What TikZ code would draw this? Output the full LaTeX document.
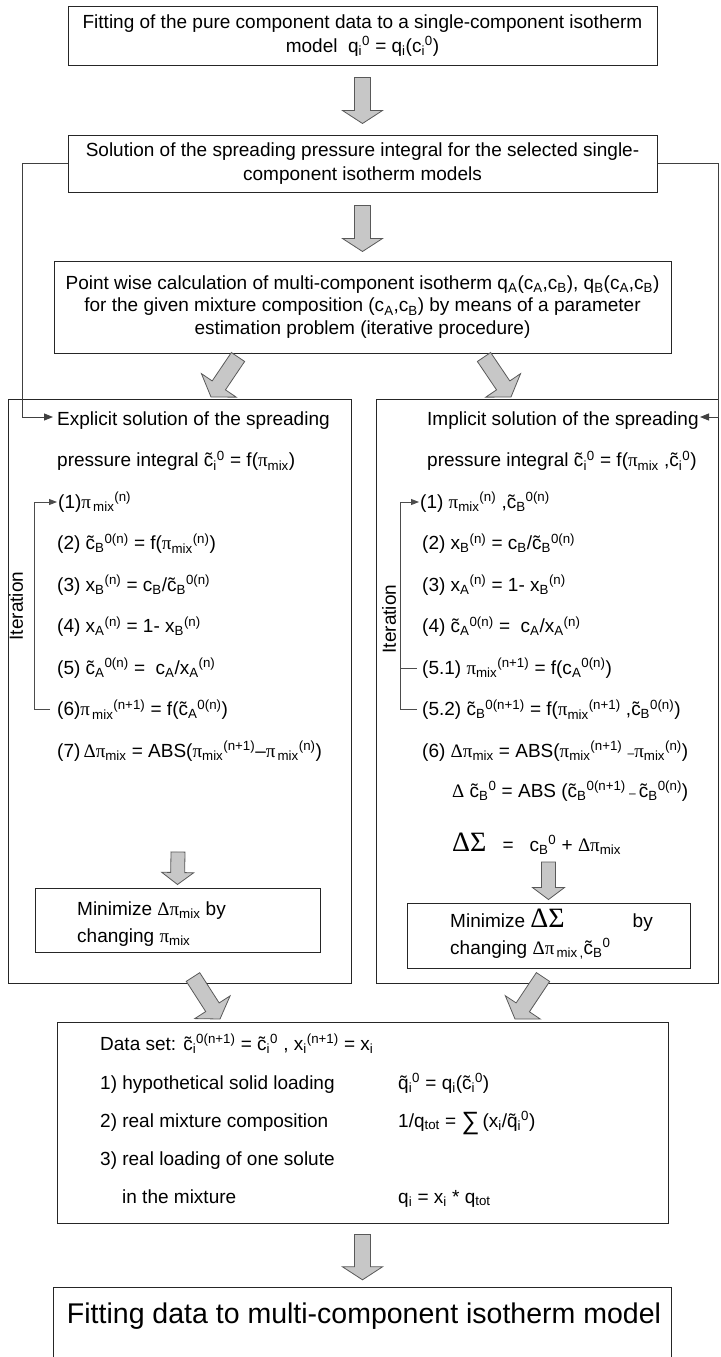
\documentclass[tikz,border=0pt]{standalone}
\usepackage{fontspec}
\setmainfont{Liberation Sans}
\newfontfamily\srf{Liberation Serif}
\usetikzlibrary{calc,arrows.meta}
\newcommand\fs[2]{\fontsize{#1}{#2}\selectfont}
\newcommand\sbs[1]{\textsubscript{#1}}
\newcommand\sps[1]{\textsuperscript{#1}}
\newcommand\tld[1]{\ooalign{#1\cr\hidewidth\char"02DC\hidewidth\cr}}
\newcommand\ct{\tld{c}}
\newcommand\qt{\tld{q}}
\newcommand\PI{{\srf π}}
\newcommand\DL{{\srf Δ}}
\newcommand\smdash{{\fs{12}{12}–}}
% block arrow between two named coordinates: shaft half width, head half width, head length
\newcommand\barr[5]{%
  \path[bar] let \p1=(#1), \p2=(#2), \p3=($(\p2)!#5!(\p1)$) in
    ($(\p1)!#3!90:(\p2)$) -- ($(\p3)!#3!90:(\p2)$) -- ($(\p3)!#4!90:(\p2)$) -- (\p2)
    -- ($(\p3)!#4!-90:(\p2)$) -- ($(\p3)!#3!-90:(\p2)$) -- ($(\p1)!#3!-90:(\p2)$) -- cycle;}
\begin{document}
\begin{tikzpicture}[x=1pt,y=-1pt,
  boxline/.style={draw=black!85, line width=1pt},
  box/.style={boxline, inner sep=0pt, align=center, font=\fs{19}{23.5}},
  frame/.style={boxline, inner sep=0pt},
  txt/.style={inner sep=0pt, anchor=base west, font=\fs{19}{23}},
  fb/.style={draw=black!75, line width=0.9pt, -{Triangle[length=9pt,width=7pt]}},
  brk/.style={draw=black!70, line width=0.9pt},
  bar/.style={draw=black!65, fill=black!22, line width=0.8pt, line join=miter}]

\useasboundingbox (0,0) rectangle (720,1357);
\fill[white] (0,0) rectangle (720,1357);

% top boxes
\node[box, minimum width=589pt, minimum height=59pt] (b1) at (362.5,35.5)
  {Fitting of the pure component data to a single-component isotherm\\
   model\ \ q\sbs{i}\sps{0} = q\sbs{i}(c\sbs{i}\sps{0})};
\node[box, minimum width=589pt, minimum height=57pt] (b2) at (362.5,163.5)
  {Solution of the spreading pressure integral for the selected single-\\
   component isotherm models};
\node[box, minimum width=617pt, minimum height=92pt, font=\fs{19}{22.5}] (b3) at (362.5,307)
  {Point wise calculation of multi-component isotherm q\sbs{A}(c\sbs{A},c\sbs{B}), q\sbs{B}(c\sbs{A},c\sbs{B})\\
   for the given mixture composition (c\sbs{A},c\sbs{B}) by means of a parameter\\
   estimation problem (iterative procedure)};

% big frames
\node[frame, minimum width=343pt, minimum height=584pt] (ex) at (179.5,691) {};
\node[frame, minimum width=342.5pt, minimum height=584pt] (im) at (547.25,691) {};
\node[frame, minimum width=285pt, minimum height=64pt] (mL) at (177.5,920) {};
\node[frame, minimum width=283pt, minimum height=65pt] (mR) at (548.5,935.5) {};
\node[frame, minimum width=611pt, minimum height=201pt] (db) at (362.5,1122.5) {};
\node[inner sep=0pt, minimum width=617pt, minimum height=70pt] (lb) at (362.5,1323) {};
\draw[boxline] ([yshift=-90pt]lb.north west) -- (lb.north west) -- (lb.north east) -- ([yshift=-90pt]lb.north east);
\node[inner sep=0pt, anchor=base, font=\fs{28.5}{30}] (lt) at (364,1323) {Fitting data to multi-component isotherm model};

% explicit box text
\node[txt] (L0) at (57,425) {Explicit solution of the spreading};
\node[txt] (L1) at (57,466.5) {pressure integral \ct\sbs{i}\sps{0} = f(\PI\sbs{mix})};
\node[txt] (L2) at (58,508) {(1)\PI\sbs{\,mix}\sps{(n)}};
\node[txt] (L3) at (57,549.5) {(2) \ct\sbs{B}\sps{0(n)} = f(\PI\sbs{mix}\sps{(n)})};
\node[txt] (L4) at (57,591) {(3) x\sbs{B}\sps{(n)} = c\sbs{B}/\ct\sbs{B}\sps{0(n)}};
\node[txt] (L5) at (57,632.5) {(4) x\sbs{A}\sps{(n)} = 1- x\sbs{B}\sps{(n)}};
\node[txt] (L6) at (57,674) {(5) \ct\sbs{A}\sps{0(n)} = \ c\sbs{A}/x\sbs{A}\sps{(n)}};
\node[txt] (L7) at (57,715.5) {(6)\PI\sbs{\,mix}\sps{(n+1)} = f(\ct\sbs{A}\sps{0(n)})};
\node[txt] (L8) at (57,757) {(7)\,\DL\PI\sbs{mix} = ABS(\PI\sbs{mix}\sps{(n+1)}–\PI\sbs{\,mix}\sps{(n)})};
\node[txt] (M1) at (77,915) {Minimize \DL\PI\sbs{mix} by};
\node[txt] (M2) at (77,942) {changing \PI\sbs{mix}};

% implicit box text
\node[txt] (R0) at (427,425) {Implicit solution of the spreading};
\node[txt] (R1) at (427,466.5) {pressure integral \ct\sbs{i}\sps{0} = f(\PI\sbs{mix} ,\ct\sbs{i}\sps{0})};
\node[txt] (R2) at (420,508) {(1) \PI\sbs{mix}\sps{(n)} ,\ct\sbs{B}\sps{0(n)}};
\node[txt] (R3) at (422,549.5) {(2) x\sbs{B}\sps{(n)} = c\sbs{B}/\ct\sbs{B}\sps{0(n)}};
\node[txt] (R4) at (422,591) {(3) x\sbs{A}\sps{(n)} = 1- x\sbs{B}\sps{(n)}};
\node[txt] (R5) at (422,632.5) {(4) \ct\sbs{A}\sps{0(n)} = \ c\sbs{A}/x\sbs{A}\sps{(n)}};
\node[txt] (R6) at (422,674) {(5.1) \PI\sbs{mix}\sps{(n+1)} = f(c\sbs{A}\sps{0(n)})};
\node[txt] (R7) at (422,715.5) {(5.2) \ct\sbs{B}\sps{0(n+1)} = f(\PI\sbs{mix}\sps{(n+1)} ,\ct\sbs{B}\sps{0(n)})};
\node[txt] (R8) at (422,757) {(6) \DL\PI\sbs{mix} = ABS(\PI\sbs{mix}\sps{(n+1)} \smdash\PI\sbs{mix}\sps{(n)})};
\node[txt] (R9) at (452,797) {\DL\ \ct\sbs{B}\sps{0} = ABS (\ct\sbs{B}\sps{0(n+1)}\,\smdash\,\ct\sbs{B}\sps{0(n)})};
\node[txt] (R10) at (452,851) {{\srf\fs{28}{28}ΔΣ}\hspace{16pt}=\hspace{16pt}c\sbs{B}\sps{0} + \DL\PI\sbs{mix}};
\node[txt] (N1) at (450,927) {Minimize {\srf\fs{28}{28}ΔΣ}\hspace{68pt}by};
\node[txt] (N2) at (450,954) {changing \DL\PI\sbs{\,mix\,,}\ct\sbs{B}\sps{0}};

% data box text
\node[txt] (D0) at (100,1050) {Data set: \ct\sbs{i}\sps{0(n+1)} = \ct\sbs{i}\sps{0} , x\sbs{i}\sps{(n+1)} = x\sbs{i}};
\node[txt] (D1) at (100,1089) {1) hypothetical solid loading};
\node[txt] (D1r) at (398,1089) {\qt\sbs{i}\sps{0} = q\sbs{i}(\ct\sbs{i}\sps{0})};
\node[txt] (D2) at (100,1127) {2) real mixture composition};
\node[txt] (D2r) at (398,1127) {1/q\sbs{tot} = \raisebox{-2pt}{\fs{25}{25}∑}\,(x\sbs{i}/\qt\sbs{i}\sps{0})};
\node[txt] (D3) at (100,1165) {3) real loading of one solute};
\node[txt] (D4) at (122,1203) {in the mixture};
\node[txt] (D4r) at (398,1203) {q\sbs{i} = x\sbs{i} * q\sbs{tot}};

% iteration labels and brackets
\node[rotate=90, inner sep=0pt, font=\fs{19}{23}] (itL) at (16,606) {Iteration};
\node[rotate=90, inner sep=0pt, font=\fs{19}{23}] (itR) at (389,619) {Iteration};
\coordinate (brL) at (34,600);
\coordinate (brR) at (400,600);
\coordinate (L2m) at ([yshift=6pt]L2.base west);
\coordinate (L7m) at ([yshift=6pt]L7.base west);
\coordinate (R2m) at ([yshift=6pt]R2.base west);
\coordinate (R6m) at ([yshift=6pt]R6.base west);
\coordinate (R7m) at ([yshift=6pt]R7.base west);
\draw[brk,-{Triangle[length=8pt,width=6pt]}] ([xshift=-7pt]L7m) -- (L7m -| brL) -- (L2m -| brL) -- ([xshift=-1pt]L2m);
\draw[brk,-{Triangle[length=8pt,width=6pt]}] ([xshift=-5pt]R7m) -- (R7m -| brR) -- (R2m -| brR) -- ([xshift=-1pt]R2m);
\draw[brk] (R6m -| brR) -- ([xshift=-5pt]R6m);

% feedback lines
\coordinate (fbL) at (22,417);
\coordinate (fbLt) at (53,417);
\coordinate (fbR) at (718.5,417);
\coordinate (fbRt) at (700,417);
\draw[fb] (b2.west) -| (fbL) -- (fbLt);
\draw[fb] (b2.east) -| (fbR) -- (fbRt);

% block arrows
\coordinate (a1s) at ($(b1.south)+(0,12)$);
\coordinate (a1e) at ($(b2.north)+(0,-11)$);
\coordinate (a2s) at ($(b2.south)+(0,13)$);
\coordinate (a2e) at ($(b3.north)+(0,-9)$);
\coordinate (a3s) at (238,357);
\coordinate (a3e) at (211,397);
\coordinate (a4s) at (484,357);
\coordinate (a4e) at (511,397);
\coordinate (a5s) at (178,852);
\coordinate (a5e) at ($(mL.north)+(0,-3)$);
\coordinate (a6s) at (548.5,862);
\coordinate (a6e) at ($(mR.north)+(0,-3)$);
\coordinate (a7s) at (193,977);
\coordinate (a7e) at (220,1019);
\coordinate (a8s) at (543,977);
\coordinate (a8e) at (515,1019);
\coordinate (a9s) at ($(db.south)+(0,11)$);
\coordinate (a9e) at ($(lb.north)+(0,-8)$);
\barr{a1s}{a1e}{8pt}{20pt}{13pt}
\barr{a2s}{a2e}{8pt}{20pt}{13pt}
\barr{a3s}{a3e}{8pt}{21pt}{14pt}
\barr{a4s}{a4e}{8pt}{21pt}{14pt}
\barr{a5s}{a5e}{7pt}{16pt}{12pt}
\barr{a6s}{a6e}{7pt}{16pt}{12pt}
\barr{a7s}{a7e}{8pt}{21pt}{14pt}
\barr{a8s}{a8e}{8pt}{21pt}{14pt}
\barr{a9s}{a9e}{8pt}{20pt}{13pt}
\end{tikzpicture}
\end{document}
